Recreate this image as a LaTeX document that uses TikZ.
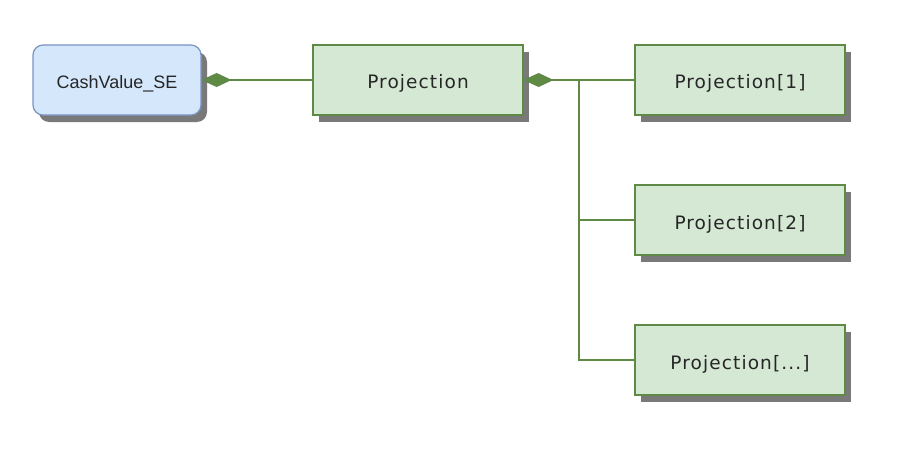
\documentclass[tikz,border=0pt]{standalone}
\usepackage{fontspec}
\setmainfont{DejaVu Sans}[LetterSpace=6]
\newfontfamily\arialf{Liberation Sans}
\usetikzlibrary{arrows.meta,shadows}
\definecolor{gfill}{HTML}{D5E8D4}
\definecolor{gline}{HTML}{5F8A45}
\definecolor{bfill}{HTML}{D4E7FB}
\definecolor{bline}{HTML}{7A95C4}
\newcommand{\lowtxt}[1]{\raisebox{-9pt}[0pt][0pt]{#1}}
\tikzset{
 sh/.style={drop shadow={shadow xshift=6pt,shadow yshift=-7pt,fill=black!70,opacity=0.75}},
 gbox/.style={draw=gline,fill=gfill,line width=1.2pt,minimum width=210pt,minimum height=70pt,inner sep=0pt,font=\fontsize{18.5}{20}\selectfont,text=black!85,sh},
 bbox/.style={draw=bline,fill=bfill,line width=1.2pt,rounded corners=10pt,minimum width=168pt,minimum height=70pt,inner sep=0pt,font=\arialf\fontsize{18}{20}\selectfont,text=black!85,sh},
 conn/.style={draw=gline,line width=1.2pt},
 dia/.style={conn,{Diamond[length=30pt,width=14pt,fill=gline]}-}
}
\begin{document}
\begin{tikzpicture}[x=1pt,y=-1pt]
\useasboundingbox (0,0) rectangle (905,452);
\node[bbox] (cash) at (117,80) {\lowtxt{CashValue\_SE}};
\node[gbox] (proj) at (418,80) {\lowtxt{Projection}};
\node[gbox] (p1) at (740,80) {\lowtxt{Projection[1]}};
\node[gbox] (p2) at (740,220) {\lowtxt{Projection[2]}};
\node[gbox] (p3) at (740,360) {\lowtxt{Projection[...]}};
\coordinate (j1) at (579,80);
\coordinate (j2) at (579,220);
\coordinate (j3) at (579,360);
\draw[dia] (cash.east) -- (proj.west);
\draw[dia] (proj.east) -- (p1.west);
\draw[conn] (j1) -- (j3) -- (p3.west);
\draw[conn] (j2) -- (p2.west);
\end{tikzpicture}
\end{document}
